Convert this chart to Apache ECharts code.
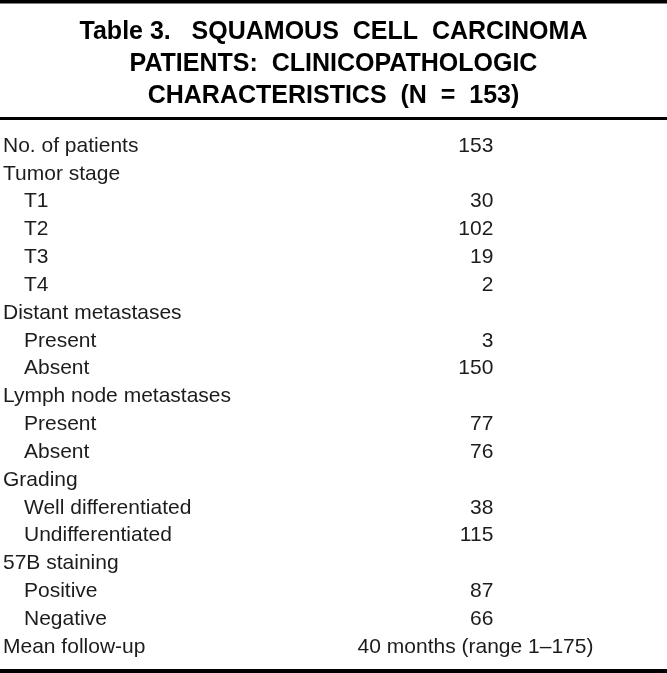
<!DOCTYPE html>
<html>
<head>
<meta charset="utf-8">
<script src="https://cdn.jsdelivr.net/npm/echarts@6/dist/echarts.min.js"></script>
<style>
html,body{margin:0;padding:0;background:#fff;}
#chart{width:667px;height:673px;}
</style>
</head>
<body>
<div id="chart"></div>
<script>
// ---- data ----
const titleLines = [
  'Table 3.   SQUAMOUS  CELL  CARCINOMA',
  'PATIENTS:  CLINICOPATHOLOGIC',
  'CHARACTERISTICS  (N  =  153)'
];
const rowLabels = ['No. of patients','Tumor stage','T1','T2','T3','T4','Distant metastases','Present','Absent',
  'Lymph node metastases','Present','Absent','Grading','Well differentiated','Undifferentiated',
  '57B staining','Positive','Negative','Mean follow-up'];
const rowIsSub = [0,0,1,1,1,1,0,1,1,0,1,1,0,1,1,0,1,1,0];
const rowValues = [153,null,30,102,19,2,null,3,150,null,77,76,null,38,115,null,87,66,null];
const followUpRow = 18;
const followUpText = '40 months (range 1\u2013175)';

// ---- chart ----
const FONT = '"Liberation Sans", Arial, Helvetica, sans-serif';
const TXT = '#1c1c1c';
const chart = echarts.init(document.getElementById('chart'), null, {renderer:'canvas'});

const numData = [];
rowValues.forEach((v,i)=>{ if(v!==null) numData.push([491.5, i, v]); });

const titles = titleLines.map((t,i)=>({
  text: t, left: 'center', top: 20 + i*32, padding: 0,
  textStyle: {fontFamily: FONT, fontWeight: 'bold', fontSize: 25, color: '#000'}
}));

chart.setOption({
  animation: false,
  backgroundColor: '#fff',
  title: titles,
  grid: {left: 0, right: 0, top: 132, bottom: 12.2, containLabel: false},
  xAxis: {type: 'value', min: 0, max: 667, show: false},
  yAxis: {
    type: 'category', inverse: true, data: rowLabels,
    axisLine: {show: false}, axisTick: {show: false}, splitLine: {show: false},
    axisLabel: {
      show: true, align: 'left', margin: 4, interval: 0,
      fontFamily: FONT, fontSize: 21, color: TXT,
      formatter: (val, idx) => rowIsSub[idx] ? '{sub|' + rowLabels[idx] + '}' : rowLabels[idx],
      rich: {sub: {padding: [0,0,0,21], fontFamily: FONT, fontSize: 21, color: TXT}}
    }
  },
  series: [
    {
      type: 'scatter', symbolSize: 0, silent: true,
      itemStyle: {opacity: 1},
      data: numData,
      label: {show: true, position: 'left', distance: 0, formatter: p => String(p.value[2]),
        fontFamily: FONT, fontSize: 21, color: TXT, opacity: 1}
    },
    {
      type: 'scatter', symbolSize: 0, silent: true,
      itemStyle: {opacity: 1},
      data: [[473.5, followUpRow, followUpText]],
      label: {show: true, position: 'inside', formatter: p => p.value[2],
        fontFamily: FONT, fontSize: 21, color: TXT, opacity: 1}
    }
  ],
  graphic: [
    {type: 'rect', shape: {x: 0, y: 0, width: 667, height: 3.5}, style: {fill: '#000'}},
    {type: 'rect', shape: {x: 0, y: 117, width: 667, height: 3}, style: {fill: '#000'}},
    {type: 'rect', shape: {x: 0, y: 669, width: 667, height: 4}, style: {fill: '#000'}}
  ]
});
</script>
</body>
</html>
